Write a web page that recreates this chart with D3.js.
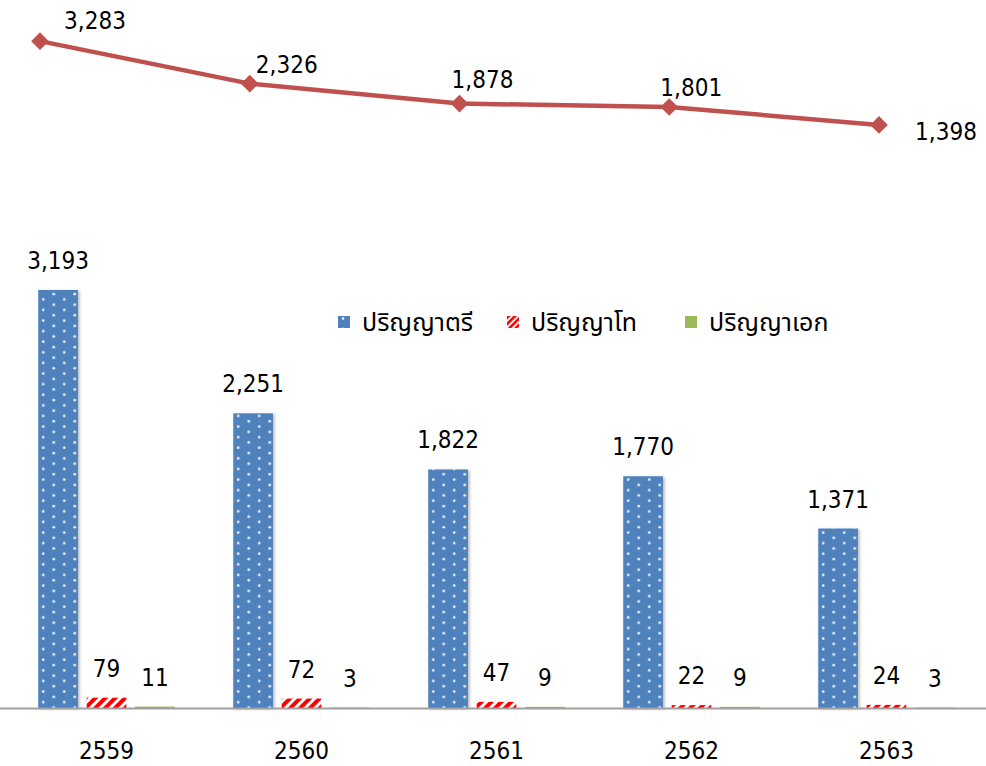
<!DOCTYPE html>
<html>
<head>
<meta charset="utf-8">
<script src="https://cdn.jsdelivr.net/npm/d3@7"></script>
<style>
  html, body { margin: 0; padding: 0; background: #fff; }
  svg { display: block; }
  .num { font-family: "DejaVu Sans Condensed", "DejaVu Sans", sans-serif; font-stretch: condensed; font-size: 24px; fill: #000; }
  .leg { font-family: Tahoma, "Noto Sans Thai", "Noto Sans", "DejaVu Sans", sans-serif; font-size: 25px; fill: #000; }
</style>
</head>
<body>
<svg id="chart" width="986" height="766"></svg>
<script>
// ---- data ----
const years = ["2559", "2560", "2561", "2562", "2563"];
const totals = [3283, 2326, 1878, 1801, 1398];
const bachelor = [3193, 2251, 1822, 1770, 1371];
const master = [79, 72, 47, 22, 24];
const doctorate = [11, 3, 9, 9, 3];
const seriesNames = ["ปริญญาตรี", "ปริญญาโท", "ปริญญาเอก"];

// ---- layout (not data) ----
const lineLabelOffsets = [[55, -12], [37, -11], [23, -16], [22, -11], [67, 15]];

const svg = d3.select("#chart");
const defs = svg.append("defs");

// dotted pattern (blue)
const pDot = defs.append("pattern").attr("id", "dots").attr("patternUnits", "userSpaceOnUse")
  .attr("width", 21).attr("height", 10.6);
pDot.append("rect").attr("width", 21).attr("height", 10.6).attr("fill", "#4F81BD");
pDot.append("circle").attr("cx", 5).attr("cy", 2.6).attr("r", 1.3).attr("fill", "#fff").attr("opacity", 0.9);
pDot.append("circle").attr("cx", 15.5).attr("cy", 7.9).attr("r", 1.3).attr("fill", "#fff").attr("opacity", 0.9);

// stripe pattern (red)
const pStr = defs.append("pattern").attr("id", "stripes").attr("patternUnits", "userSpaceOnUse")
  .attr("width", 7).attr("height", 7).attr("patternTransform", "rotate(45)");
pStr.append("rect").attr("width", 7).attr("height", 7).attr("fill", "#fff");
pStr.append("rect").attr("width", 4).attr("height", 7).attr("fill", "#FF0000");

// small stripe pattern (legend)
const pStr2 = defs.append("pattern").attr("id", "stripesSmall").attr("patternUnits", "userSpaceOnUse")
  .attr("width", 4.5).attr("height", 4.5).attr("patternTransform", "rotate(45)");
pStr2.append("rect").attr("width", 4.5).attr("height", 4.5).attr("fill", "#fff");
pStr2.append("rect").attr("width", 2.6).attr("height", 4.5).attr("fill", "#FF0000");

// shadow
const f = defs.append("filter").attr("id", "shadow").attr("x", "-30%").attr("y", "-10%").attr("width", "160%").attr("height", "120%");
f.append("feDropShadow").attr("dx", 1.5).attr("dy", 1).attr("stdDeviation", 1.6)
  .attr("flood-color", "#000").attr("flood-opacity", 0.3);

const fills = ["url(#dots)", "url(#stripes)", "#9BBB59"];
const legendFills = ["url(#dots)", "url(#stripesSmall)", "#9BBB59"];

// ---- bar chart ----
const x0 = d3.scaleBand().domain(years).range([9, 984]).paddingInner(0.3).paddingOuter(0.15);
const x1 = d3.scaleBand().domain(d3.range(3)).range([0, x0.bandwidth()]).paddingInner(0.18);
const yBar = d3.scaleLinear().domain([0, 3500]).range([708, 249.8]);

const barData = years.map((yr, i) => ({ yr, vals: [bachelor[i], master[i], doctorate[i]] }));

const groups = svg.append("g").selectAll("g").data(barData).join("g")
  .attr("transform", d => `translate(${x0(d.yr)},0)`);

groups.selectAll("rect").data(d => d.vals.map((v, k) => ({ v, k }))).join("rect")
  .attr("x", d => x1(d.k))
  .attr("width", x1.bandwidth())
  .attr("y", d => yBar(d.v))
  .attr("height", d => yBar(0) - yBar(d.v))
  .attr("fill", d => fills[d.k])
  .attr("filter", d => d.k === 0 ? "url(#shadow)" : null);

groups.selectAll("text").data(d => d.vals.map((v, k) => ({ v, k }))).join("text")
  .attr("class", "num")
  .attr("text-anchor", "middle")
  .attr("x", d => x1(d.k) + x1.bandwidth() / 2)
  .attr("y", d => yBar(d.v) - 21)
  .text(d => d3.format(",")(d.v));

// axis
const ax = svg.append("g").attr("transform", `translate(0,${yBar(0)})`)
  .call(d3.axisBottom(x0).tickSize(0));
ax.select(".domain").attr("d", "M0,0.5H986").attr("stroke", "#A0A0A0").attr("stroke-width", 2);
ax.selectAll("text").attr("class", "num").attr("font-size", null).attr("font-family", null)
  .attr("y", 51).attr("dy", 0);
ax.attr("font-size", null).attr("font-family", null);

// legend
const legX = [338, 507, 685];
const leg = svg.append("g").selectAll("g").data(seriesNames).join("g")
  .attr("transform", (d, i) => `translate(${legX[i]},316)`);
leg.append("rect").attr("width", 12).attr("height", 12).attr("fill", (d, i) => legendFills[i]);
leg.append("text").attr("class", "leg").attr("x", 24).attr("y", 15).text(d => d);

// ---- line chart ----
const xLine = d3.scalePoint().domain(years).range([40, 879]);
const yLine = d3.scaleLinear().domain([0, 3500]).range([187, 31.5]);
const lineData = years.map((yr, i) => ({ yr, v: totals[i], i }));

svg.append("path").datum(lineData)
  .attr("fill", "none").attr("stroke", "#C0504D").attr("stroke-width", 4.5)
  .attr("stroke-linejoin", "round")
  .attr("d", d3.line().x(d => xLine(d.yr)).y(d => yLine(d.v)));

svg.append("g").selectAll("path").data(lineData).join("path")
  .attr("transform", d => `translate(${xLine(d.yr)},${yLine(d.v)})`)
  .attr("d", d3.symbol(d3.symbolDiamond2, 200))
  .attr("fill", "#C0504D");

svg.append("g").selectAll("text").data(lineData).join("text")
  .attr("class", "num").attr("text-anchor", "middle")
  .attr("x", d => xLine(d.yr) + lineLabelOffsets[d.i][0])
  .attr("y", d => yLine(d.v) + lineLabelOffsets[d.i][1])
  .text(d => d3.format(",")(d.v));
</script>
</body>
</html>
